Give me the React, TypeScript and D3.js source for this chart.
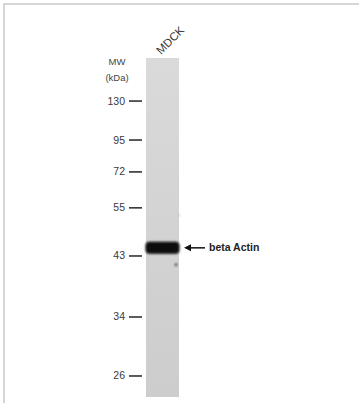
import React from "react";
import * as d3 from "d3";

const markerLabels = ["130", "95", "72", "55", "43", "34", "26"];
// relative migration (fraction of lane length)
const markerRf = [0.127, 0.242, 0.336, 0.442, 0.584, 0.764, 0.938];
const lanes = ["MDCK"];
const bandTarget = "beta Actin";
const bandRf = [0.56];

export default function App() {
  const W = 359, H = 403;
  const laneTop = 58, laneBottom = 397;
  const y = d3.scaleLinear().domain([0, 1]).range([laneTop, laneBottom]);
  const x = d3.scaleBand().domain(lanes).range([146, 179]).padding(0);
  const lx = x("MDCK")!;
  const lw = x.bandwidth();
  const by = y(bandRf[0]);
  const font = "Liberation Sans, Arial, sans-serif";
  return (
    <svg width={W} height={H} style={{ position: "absolute", left: 0, top: 0, display: "block" }}>
      <defs>
        <linearGradient id="lane" x1="0" y1="0" x2="0" y2="1">
          <stop offset="0" stopColor="#dadada" />
          <stop offset="0.5" stopColor="#d3d3d3" />
          <stop offset="1" stopColor="#cdcdcd" />
        </linearGradient>
        <filter id="blur" x="-20%" y="-50%" width="140%" height="200%">
          <feGaussianBlur stdDeviation="0.9" />
        </filter>
      </defs>
      <rect x={0} y={0} width={W} height={H} fill="#fff" />
      <rect x={3} y={3} width={W - 3} height={2} fill="#d6d6d6" />
      <rect x={3} y={3} width={2} height={H - 3} fill="#d6d6d6" />
      <rect x={lx} y={laneTop} width={lw} height={laneBottom - laneTop} fill="url(#lane)" />
      {lanes.map((l) => (
        <text key={l} transform={`translate(${lx + 15},${laneTop - 3}) rotate(-45)`}
          fontFamily={font} fontSize={11.5} fill="#333">{l}</text>
      ))}
      <text x={117} y={65} textAnchor="middle" fontFamily={font} fontSize={9.5} fill="#444">MW</text>
      <text x={117} y={81} textAnchor="middle" fontFamily={font} fontSize={9.5} fill="#444">(kDa)</text>
      {markerLabels.map((m, i) => (
        <g key={m}>
          <text x={125} y={y(markerRf[i]) + 3.5} textAnchor="end" fontFamily={font} fontSize={10.5} fill="#3a3a3a">{m}</text>
          <line x1={129} x2={142} y1={y(markerRf[i])} y2={y(markerRf[i])} stroke="#333" strokeWidth={1.6} />
        </g>
      ))}
      <g filter="url(#blur)">
        <rect x={lx - 0.5} y={by - 6} width={lw + 1} height={12} rx={4} fill="#080808" />
        <circle cx={lx + 30} cy={y(0.61)} r={1.2} fill="#222" />
        <circle cx={lx + 33} cy={y(0.464)} r={0.8} fill="#999" />
      </g>
      <line x1={189} x2={205} y1={by} y2={by} stroke="#111" strokeWidth={1.5} />
      <path d={`M184,${by} L191,${by - 3.5} L191,${by + 3.5} Z`} fill="#111" />
      <text x={209} y={by + 3.5} fontFamily={font} fontSize={10.5} fontWeight="bold" fill="#222">{bandTarget}</text>
    </svg>
  );
}
